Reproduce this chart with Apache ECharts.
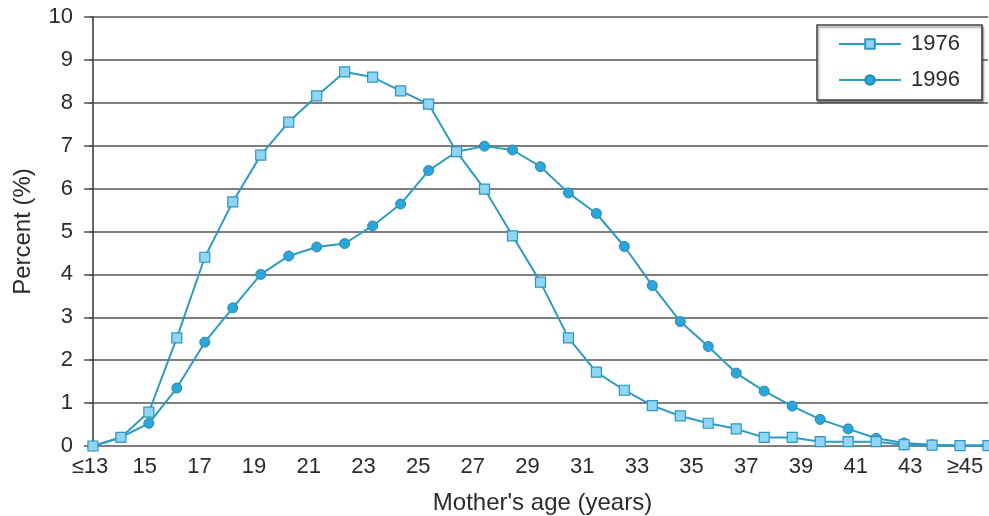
<!DOCTYPE html>
<html>
<head>
<meta charset="utf-8">
<script src="https://cdn.jsdelivr.net/npm/echarts@6/dist/echarts.min.js"></script>
<style>
html,body{margin:0;padding:0;background:#fff;}
#chart{width:989px;height:516px;}
</style>
</head>
<body>
<div id="chart"></div>
<script>
const ageCategories = ['≤13','14','15','16','17','18','19','20','21','22','23','24','25','26','27','28','29','30','31','32','33','34','35','36','37','38','39','40','41','42','43','44','≥45'];
const values1976 = [0, 0.2, 0.79, 2.52, 4.4, 5.69, 6.78, 7.55, 8.16, 8.72, 8.6, 8.28, 7.97, 6.86, 5.99, 4.9, 3.82, 2.52, 1.72, 1.3, 0.94, 0.7, 0.53, 0.4, 0.2, 0.2, 0.1, 0.1, 0.1, 0.03, 0.02, 0.01, 0.01];
const values1996 = [0, 0.2, 0.53, 1.35, 2.42, 3.22, 4.0, 4.43, 4.64, 4.72, 5.13, 5.64, 6.42, 6.86, 6.99, 6.9, 6.51, 5.9, 5.42, 4.65, 3.74, 2.9, 2.32, 1.7, 1.28, 0.93, 0.62, 0.4, 0.18, 0.07, 0.03, 0.01, 0.01];
const yTicks = [0,1,2,3,4,5,6,7,8,9,10];

const FONT = 'Liberation Sans, Arial, sans-serif';
const TXT = '#2b2b2b';
const chart = echarts.init(document.getElementById('chart'), null, {renderer: 'canvas'});

const toPairs = arr => arr.map((v, i) => [i, v]);

chart.setOption({
  animation: false,
  backgroundColor: '#ffffff',
  textStyle: {fontFamily: FONT},
  grid: [
    {left: 89, right: 1, top: 17, bottom: 70, containLabel: false, outerBoundsMode: 'none'},
    {left: 90, right: 24, top: 17, bottom: 70, containLabel: false, outerBoundsMode: 'none'}
  ],
  legend: {
    data: ['1976', '1996'],
    orient: 'vertical',
    left: 817,
    top: 25,
    padding: [8, 22, 9, 21],
    itemWidth: 62,
    itemHeight: 12,
    itemGap: 14,
    backgroundColor: '#ffffff',
    borderColor: '#444444',
    borderWidth: 1.5,
    shadowColor: 'rgba(0,0,0,0.45)',
    shadowOffsetX: 1,
    shadowOffsetY: 2,
    shadowBlur: 2,
    textStyle: {fontFamily: FONT, fontSize: 22, color: TXT, lineHeight: 20, padding: [0, 0, 0, 5]}
  },
  xAxis: [
    {
      type: 'value',
      gridIndex: 0,
      min: -0.14,
      max: 32,
      axisLine: {show: false},
      axisTick: {show: false},
      axisLabel: {show: false},
      splitLine: {show: false},
      name: "Mother's age (years)",
      nameLocation: 'middle',
      nameGap: 45,
      nameTextStyle: {fontFamily: FONT, fontSize: 24, color: TXT, padding: [0, 0, 0, 8]}
    },
    {
      type: 'category',
      gridIndex: 1,
      data: ageCategories,
      boundaryGap: false,
      axisLine: {show: false},
      axisTick: {show: false},
      splitLine: {show: false},
      axisLabel: {interval: 1, margin: 10, fontFamily: FONT, fontSize: 22, color: TXT}
    }
  ],
  yAxis: [
    {
      type: 'value',
      gridIndex: 0,
      min: 0,
      max: 10,
      interval: 1,
      axisLine: {show: true, lineStyle: {color: '#333333', width: 1.5}},
      axisTick: {show: true, length: 9, lineStyle: {color: '#555555', width: 1.5}},
      axisLabel: {margin: 16, fontFamily: FONT, fontSize: 22, color: TXT, formatter: v => String(yTicks[v] !== undefined ? yTicks[v] : v)},
      splitLine: {show: true, lineStyle: {color: '#555555', width: 1.6}},
      name: 'Percent (%)',
      nameLocation: 'middle',
      nameGap: 54,
      nameTextStyle: {fontFamily: FONT, fontSize: 24, color: TXT}
    },
    {
      type: 'value',
      gridIndex: 1,
      min: 0,
      max: 10,
      show: false
    }
  ],
  series: [
    {
      name: '1996',
      type: 'line',
      xAxisIndex: 0,
      yAxisIndex: 0,
      data: toPairs(values1996),
      symbol: 'circle',
      symbolSize: 10,
      z: 2,
      lineStyle: {color: '#2e9cc2', width: 2},
      itemStyle: {color: '#2ba5da', borderColor: '#2589b5', borderWidth: 1}
    },
    {
      name: '1976',
      type: 'line',
      xAxisIndex: 0,
      yAxisIndex: 0,
      data: toPairs(values1976),
      symbol: 'rect',
      symbolSize: 10,
      z: 3,
      lineStyle: {color: '#2e9cc2', width: 2},
      itemStyle: {color: '#8fd5f5', borderColor: '#2f95bf', borderWidth: 1.2}
    }
  ]
});
</script>
</body>
</html>
